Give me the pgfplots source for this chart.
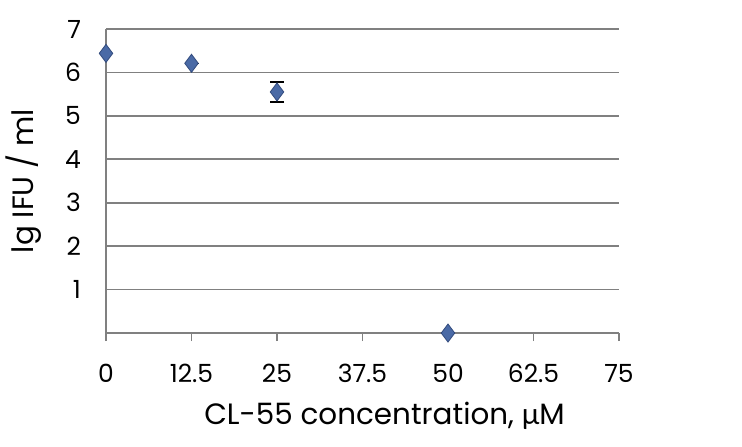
\documentclass[border=0pt]{standalone}
\usepackage{pgfplots}
\pgfplotsset{compat=1.18}
\usepackage{fontspec}
\setmainfont{Poppins}
\newfontfamily\mufont{Lato}
\definecolor{mk}{RGB}{74,106,166}
\definecolor{mkd}{RGB}{50,75,125}
\definecolor{gr}{RGB}{128,128,128}
\begin{document}
\begin{tikzpicture}
\useasboundingbox (0,0) rectangle (371pt,223pt);
\begin{axis}[
  at={(53pt,56.5pt)}, anchor=origin,
  scale only axis,
  width=256.5pt, height=152pt,
  xmin=0, xmax=75, ymin=0, ymax=7,
  xtick={0,12.5,25,37.5,50,62.5,75},
  xticklabels={0,12.5,25,37.5,50,62.5,75},
  ytick={1,2,3,4,5,6,7},
  axis x line*=bottom, axis y line*=left,
  axis line style={gr, line width=0.8pt, -},
  ymajorgrids, grid style={gr, line width=0.8pt},
  x tick style={gr, line width=0.6pt},
  xtick pos=bottom,
  tick align=outside,
  major tick length=4pt,
  y tick style={draw=none},
  clip=false,
  /pgf/number format/assume math mode=true,
  ticklabel style={font=\fontsize{12.5}{14}\selectfont},
  xticklabel style={yshift=-8pt},
  yticklabel style={xshift=-5pt},
  xlabel={CL-55 concentration, {\mufont μ}M},
  ylabel={lg IFU / ml},
  label style={font=\fontsize{14.7}{16}\selectfont},
  xlabel style={yshift=-3pt, xshift=11pt},
  ylabel style={yshift=5pt},
]
\addplot[only marks, mark=diamond*, mark size=4.5pt,
  mark options={fill=mk, draw=mkd, line width=0.4pt},
  error bars/.cd, y dir=both, y explicit,
  error bar style={black, line width=0.6pt},
  error mark options={rotate=90, mark size=3.5pt, black, line width=0.6pt}]
coordinates {
  (0,6.44) +- (0,0)
  (12.5,6.21) +- (0,0)
  (25,5.55) +- (0,0.23)
  (50,0) +- (0,0)
};
\end{axis}
\end{tikzpicture}
\end{document}
